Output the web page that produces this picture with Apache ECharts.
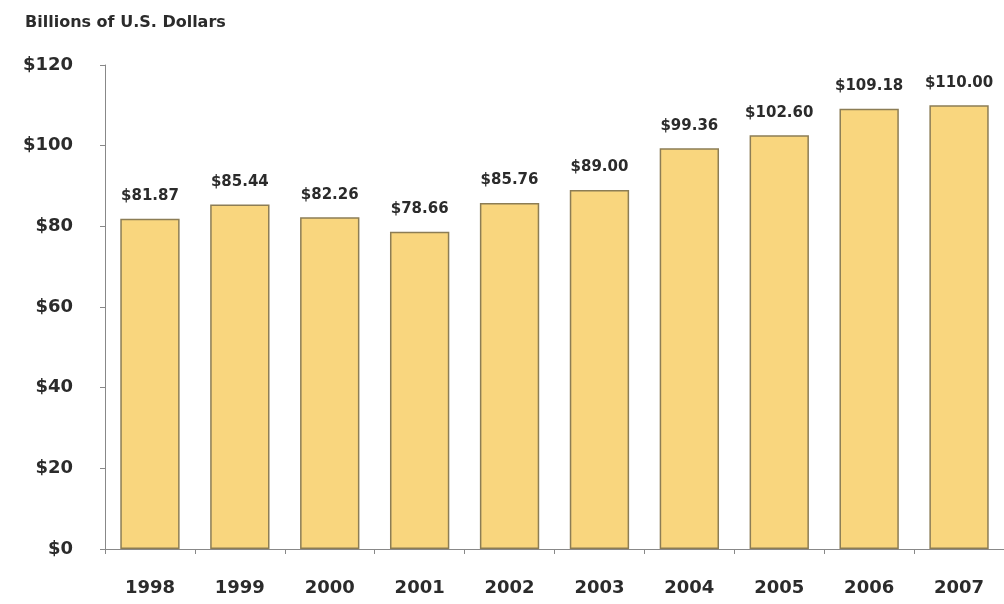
<!DOCTYPE html>
<html><head><meta charset="utf-8">
<script src="https://cdn.jsdelivr.net/npm/echarts@6/dist/echarts.min.js"></script>
<style>html,body{margin:0;padding:0;background:#fff}#c{width:1004px;height:604px}</style>
</head><body><div id="c"></div>
<script>
const years = ['1998','1999','2000','2001','2002','2003','2004','2005','2006','2007'];
const values = [81.87, 85.44, 82.26, 78.66, 85.76, 89.00, 99.36, 102.60, 109.18, 110.00];
const yTicks = [0, 20, 40, 60, 80, 100, 120];
const title = 'Billions of U.S. Dollars';

const chart = echarts.init(document.getElementById('c'));
chart.setOption({
  animation: false,
  backgroundColor: '#fff',
  title: {
    text: title, left: 20, top: 10,
    textStyle: {fontFamily: 'DejaVu Sans', fontWeight: 'bold', fontSize: 16, color: '#2b2b2b'}
  },
  grid: {left: 105, right: 0, top: 65, bottom: 55, containLabel: false},
  xAxis: {
    type: 'category', data: years,
    axisLine: {lineStyle: {color: '#888', width: 1}},
    axisTick: {show: true, alignWithLabel: false, length: 5, lineStyle: {color: '#888'}},
    axisLabel: {margin: 30, fontFamily: 'DejaVu Sans', fontWeight: 'bold', fontSize: 18, color: '#2b2b2b'}
  },
  yAxis: {
    type: 'value', min: yTicks[0], max: yTicks[yTicks.length-1], interval: 20,
    splitLine: {show: false},
    axisLine: {show: true, lineStyle: {color: '#888', width: 1}},
    axisTick: {show: true, length: 5, lineStyle: {color: '#888'}},
    axisLabel: {margin: 32, fontFamily: 'DejaVu Sans', fontWeight: 'bold', fontSize: 18, color: '#2b2b2b',
      formatter: v => '$' + v}
  },
  series: [{
    type: 'bar', data: values, barWidth: '66%',
    itemStyle: {color: '#F9D67E', borderColor: '#8C7D55', borderWidth: 1.5},
    label: {show: true, position: 'top', distance: 15,
      fontFamily: 'DejaVu Sans', fontWeight: 'bold', fontSize: 15, color: '#2b2b2b',
      formatter: p => '$' + p.value.toFixed(2)}
  }]
});
</script></body></html>
